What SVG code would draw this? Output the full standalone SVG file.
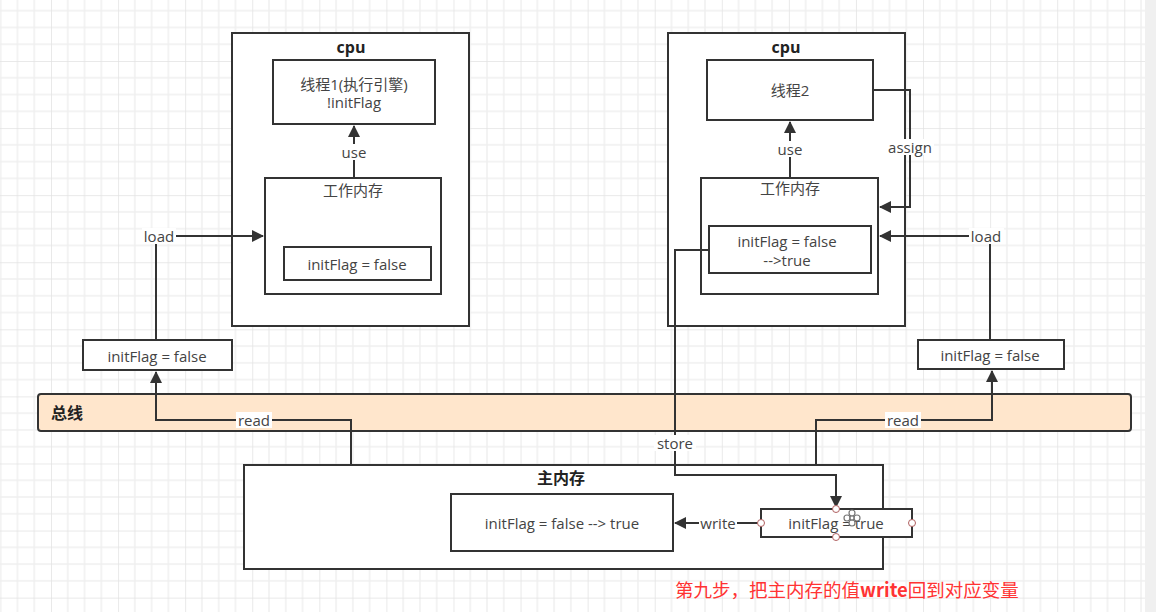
<svg xmlns="http://www.w3.org/2000/svg" width="1156" height="612" viewBox="0 0 1156 612">
<defs>
<pattern id="grid" patternUnits="userSpaceOnUse" x="51" y="61" width="67.08" height="67.08">
<path d="M16.77 0V67.08M33.54 0V67.08M50.31 0V67.08M0 16.77H67.08M0 33.54H67.08M0 50.31H67.08" stroke="#efefef" stroke-width="1.5" fill="none"/>
<path d="M0 0V67.08M0 0H67.08" stroke="#e2e2e2" stroke-width="1.5" fill="none"/>
</pattern>
<marker id="arr" viewBox="0 0 12 12" refX="11" refY="6" markerWidth="12" markerHeight="12" markerUnits="userSpaceOnUse" orient="auto">
<path d="M0 0L12 6L0 12Z" fill="#333"/>
</marker>
<style>
.box{fill:#fff;stroke:#333;stroke-width:2}
.t{font-family:"Open Sans","Noto Sans CJK SC",sans-serif;font-size:15px;fill:#444;text-anchor:middle;dominant-baseline:central}
.b{font-weight:bold;fill:#222;font-size:16px}
.line{fill:none;stroke:#333;stroke-width:2}
.lbl{fill:#fff}
.h{fill:#fff;stroke:#b06060;stroke-width:1}
</style>
</defs>
<rect width="1156" height="612" fill="#fff"/>
<rect width="1156" height="612" fill="url(#grid)"/>
<rect x="1145" y="0" width="11" height="612" fill="#f0f0f0"/>

<g id="bus">
<rect x="38" y="394" width="1093" height="37" rx="3" fill="#ffe6cc" stroke="#333" stroke-width="2"/>
<text class="t b" x="67" y="413" font-size="15">总线</text>
</g>

<g id="cpu1">
<rect class="box" x="232" y="33" width="237" height="293"/>
<text class="t b" x="351" y="47">cpu</text>
</g>
<g id="thread1">
<rect class="box" x="273" y="60" width="162" height="64"/>
<text class="t" x="354" y="84">线程1(执行引擎)</text>
<text class="t" x="354" y="102">!initFlag</text>
</g>
<g id="wm1">
<rect class="box" x="265" y="178" width="176" height="116"/>
<text class="t" x="353" y="190">工作内存</text>
</g>
<g id="wm1var">
<rect class="box" x="284" y="247" width="147" height="33"/>
<text class="t" x="357" y="264">initFlag = false</text>
</g>
<g id="left-copy">
<rect class="box" x="83" y="340" width="149" height="30"/>
<text class="t" x="157" y="356">initFlag = false</text>
</g>

<g id="cpu2">
<rect class="box" x="668" y="33" width="237" height="293"/>
<text class="t b" x="786" y="47">cpu</text>
</g>
<g id="thread2">
<rect class="box" x="707" y="60" width="166" height="60"/>
<text class="t" x="790" y="90">线程2</text>
</g>
<g id="wm2">
<rect class="box" x="701" y="178" width="177" height="116"/>
<text class="t" x="790" y="188">工作内存</text>
</g>
<g id="wm2var">
<rect class="box" x="709" y="226" width="162" height="47"/>
<text class="t" x="787" y="241">initFlag = false</text>
<text class="t" x="787" y="260">--&gt;true</text>
</g>
<g id="right-copy">
<rect class="box" x="918" y="340" width="146" height="29"/>
<text class="t" x="990" y="355">initFlag = false</text>
</g>

<g id="mainmem">
<rect class="box" x="244" y="465" width="639" height="104"/>
<text class="t b" x="561" y="478">主内存</text>
</g>
<g id="mmvar">
<rect class="box" x="451" y="494" width="222" height="57"/>
<text class="t" x="562" y="523">initFlag = false --&gt; true</text>
</g>

<g id="connectors">
<path class="line" d="M354 178V126" marker-end="url(#arr)"/>
<rect class="lbl" x="339" y="144" width="30" height="16"/>
<text class="t" x="354" y="152">use</text>

<path class="line" d="M156 340V236H263" marker-end="url(#arr)"/>
<rect class="lbl" x="142" y="228" width="34" height="16"/>
<text class="t" x="159" y="236">load</text>

<path class="line" d="M351 465V420H156V372" marker-end="url(#arr)"/>
<rect class="lbl" x="236" y="412" width="36" height="16"/>
<text class="t" x="254" y="420">read</text>

<path class="line" d="M790 178V122" marker-end="url(#arr)"/>
<rect class="lbl" x="775" y="141" width="30" height="16"/>
<text class="t" x="790" y="149">use</text>

<path class="line" d="M873 90H910V207H880" marker-end="url(#arr)"/>
<rect class="lbl" x="886" y="139" width="48" height="16"/>
<text class="t" x="910" y="147">assign</text>

<path class="line" d="M990 340V236H880" marker-end="url(#arr)"/>
<rect class="lbl" x="969" y="228" width="35" height="16"/>
<text class="t" x="986" y="236">load</text>

<path class="line" d="M816 465V420H992V371" marker-end="url(#arr)"/>
<rect class="lbl" x="885" y="412" width="36" height="16"/>
<text class="t" x="903" y="420">read</text>

<path class="line" d="M709 250H675V475H836V507" marker-end="url(#arr)"/>
<rect class="lbl" x="654" y="435" width="42" height="16"/>
<text class="t" x="675" y="443">store</text>

<path class="line" d="M761 523H675" marker-end="url(#arr)"/>
<rect class="lbl" x="699" y="515" width="38" height="16"/>
<text class="t" x="718" y="523">write</text>
</g>

<g id="mmwrite">
<rect class="box" x="761" y="509" width="151" height="28"/>
<text class="t" x="836" y="523">initFlag = true</text>
<g fill="#fff" stroke="#777" stroke-width="1.2">
<circle cx="852" cy="513" r="3"/>
<circle cx="847" cy="518" r="3"/>
<circle cx="857" cy="518" r="3"/>
<circle cx="852" cy="523" r="3"/>
<circle cx="852" cy="518" r="2"/>
</g>
<circle class="h" cx="836" cy="509" r="3.5"/>
<circle class="h" cx="836" cy="537" r="3.5"/>
<circle class="h" cx="761" cy="523" r="3.5"/>
<circle class="h" cx="912" cy="523" r="3.5"/>
</g>

<text x="675" y="597" font-family="Noto Sans CJK SC,sans-serif" font-size="18.5" fill="#f33">第九步，把主内存的值<tspan font-weight="bold">write</tspan>回到对应变量</text>
</svg>
